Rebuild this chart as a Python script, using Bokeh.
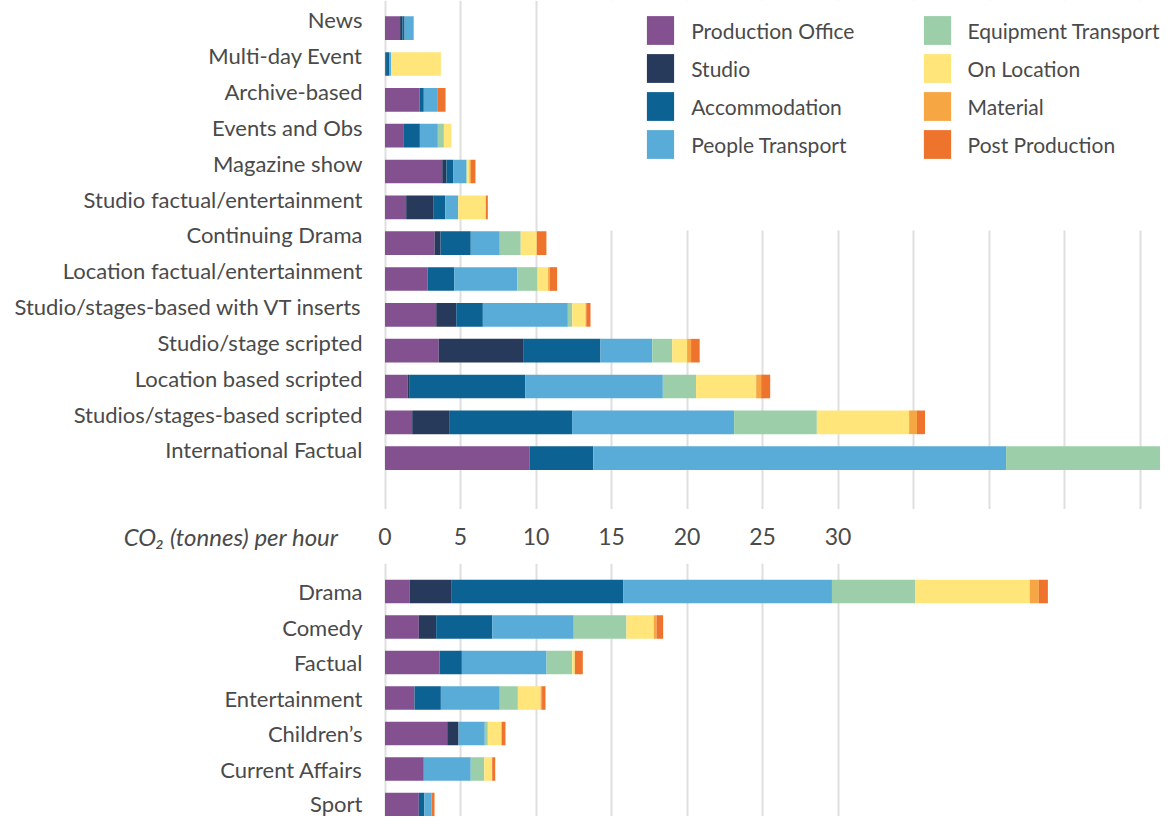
from bokeh.plotting import figure
from bokeh.layouts import column
from bokeh.models import (ColumnDataSource, Range1d, FixedTicker, Legend,
                          LegendItem, BoxAnnotation)
from bokeh.transform import dodge
from bokeh.core.properties import value
from bokeh.embed import file_html
from bokeh.resources import INLINE

# ---------------- data ----------------
SOURCES = ["Production Office", "Studio", "Accommodation", "People Transport",
           "Equipment Transport", "On Location", "Material", "Post Production"]
COLORS = ["#835190", "#283a5b", "#0c6292", "#5aacd8",
          "#9ccfa9", "#ffe57a", "#f7a644", "#ee742d"]

TOP_CATEGORIES = ["News", "Multi-day Event", "Archive-based", "Events and Obs",
                  "Magazine show", "Studio factual/entertainment",
                  "Continuing Drama", "Location factual/entertainment",
                  "Studio/stages-based with VT inserts", "Studio/stage scripted",
                  "Location based scripted", "Studios/stages-based scripted",
                  "International Factual"]
TOP_PRODUCTION_OFFICE = [1.0, 0.07, 2.3, 1.21, 3.79, 1.4, 3.28, 2.83, 3.39, 3.56, 1.51, 1.8, 9.59]
TOP_STUDIO = [0.15, 0, 0, 0, 0.28, 1.79, 0.4, 0, 1.33, 5.63, 0.13, 2.49, 0]
TOP_ACCOMMODATION = [0.15, 0.2, 0.27, 1.1, 0.44, 0.8, 2.0, 1.75, 1.76, 5.08, 7.66, 8.1, 4.2]
TOP_PEOPLE_TRANSPORT = [0.6, 0.13, 0.93, 1.19, 0.88, 0.86, 1.92, 4.19, 5.63, 3.43, 9.1, 10.73, 27.34]
TOP_EQUIPMENT_TRANSPORT = [0, 0, 0, 0.4, 0.05, 0, 1.39, 1.33, 0.29, 1.32, 2.2, 5.48, 10.58]
TOP_ON_LOCATION = [0, 3.3, 0, 0.5, 0.15, 1.83, 1.06, 0.7, 0.88, 0.99, 3.98, 6.11, 0.47]
TOP_MATERIAL = [0, 0, 0, 0, 0.1, 0, 0, 0.1, 0.05, 0.26, 0.33, 0.52, 0.1]
TOP_POST_PRODUCTION = [0, 0, 0.51, 0, 0.3, 0.13, 0.64, 0.5, 0.28, 0.57, 0.6, 0.53, 0.4]

BOTTOM_CATEGORIES = ["Drama", "Comedy", "Factual", "Entertainment",
                     "Children\u2019s", "Current Affairs", "Sport"]
BOT_PRODUCTION_OFFICE = [1.62, 2.24, 3.61, 1.95, 4.12, 2.57, 2.24]
BOT_STUDIO = [2.76, 1.15, 0, 0, 0.75, 0, 0]
BOT_ACCOMMODATION = [11.39, 3.71, 1.48, 1.75, 0, 0, 0.36]
BOT_PEOPLE_TRANSPORT = [13.83, 5.4, 5.61, 3.9, 1.74, 3.11, 0.48]
BOT_EQUIPMENT_TRANSPORT = [5.5, 3.49, 1.7, 1.2, 0.2, 0.89, 0]
BOT_ON_LOCATION = [7.6, 1.81, 0.17, 1.5, 0.91, 0.53, 0]
BOT_MATERIAL = [0.6, 0.18, 0, 0.1, 0, 0, 0]
BOT_POST_PRODUCTION = [0.6, 0.44, 0.53, 0.23, 0.26, 0.2, 0.2]

AXIS_TICKS = [0, 5, 10, 15, 20, 25, 30]
AXIS_TICK_LABELS = ["0", "5", "10", "15", "20", "25", "30"]
TOP_GRID = [0, 5, 10, 15, 20, 25, 30, 35, 40, 45, 50]
BOTTOM_GRID = [0, 5, 10, 15, 20, 25, 30]
AXIS_TITLE = "CO\u2082 (tonnes) per hour"

# ---------------- styling / layout ----------------
FONT = "Lato"
TEXT_COLOR = "#4a4a4a"
GRID_COLOR = "#dfdfdf"
W = 1160
PX = 15.1          # pixels per tonne
ZERO = 384.5       # screen x of the zero line
FRAME_LEFT = 370
XR = Range1d((FRAME_LEFT - ZERO) / PX, (W - ZERO) / PX)


def base_fig(height, y_range):
    p = figure(width=W, height=height, x_range=XR, y_range=y_range,
               output_backend="svg", toolbar_location=None,
               x_axis_location=None, min_border_left=FRAME_LEFT, min_border_right=0,
               min_border_top=0, min_border_bottom=0)
    p.outline_line_color = None
    p.background_fill_color = "white"
    p.border_fill_color = "white"
    p.ygrid.visible = False
    p.yaxis.axis_line_color = None
    p.yaxis.major_tick_line_color = None
    p.yaxis.minor_tick_line_color = None
    p.yaxis.major_tick_out = 0
    p.yaxis.major_tick_in = 0
    p.yaxis.major_label_text_font = FONT
    p.yaxis.major_label_text_font_size = "22px"
    p.yaxis.major_label_text_color = TEXT_COLOR
    p.yaxis.major_label_standoff = 8
    return p


def make_source(cats, cols):
    data = {"y": list(range(len(cats)))}
    for name, vals in zip(SOURCES, cols):
        data[name] = vals
    return ColumnDataSource(data)


# ---------------- top panel ----------------
top = base_fig(509, Range1d(13.662, -0.544))
top.xgrid.ticker = FixedTicker(ticks=TOP_GRID)
top.xgrid.grid_line_color = GRID_COLOR
top.xgrid.grid_line_width = 2
top.yaxis.ticker = FixedTicker(ticks=list(range(len(TOP_CATEGORIES))))
top.yaxis.major_label_overrides = {i: c for i, c in enumerate(TOP_CATEGORIES)}

top_src = make_source(TOP_CATEGORIES, [TOP_PRODUCTION_OFFICE, TOP_STUDIO, TOP_ACCOMMODATION,
                                       TOP_PEOPLE_TRANSPORT, TOP_EQUIPMENT_TRANSPORT,
                                       TOP_ON_LOCATION, TOP_MATERIAL, TOP_POST_PRODUCTION])
top_r = top.hbar_stack(SOURCES, y=dodge("y", 0.229), height=0.66, color=COLORS,
                       line_color=None, source=top_src)

# white panel behind the legend hides the grid there
top.add_layout(BoxAnnotation(left=14.27, bottom=5.875, fill_color="white",
                             fill_alpha=1.0, line_color=None))

LEG_LEFT = [646.6 - 3.4 - FRAME_LEFT, 923.0 - 3.4 - FRAME_LEFT]
for n, k in enumerate((0, 4)):
    items = [LegendItem(label=SOURCES[k + j], renderers=[top_r[k + j]]) for j in range(4)]
    leg = Legend(items=items, location=(LEG_LEFT[n], 346.6), orientation="vertical",
                 glyph_width=34, glyph_height=36, label_height=36,
                 label_standoff=14, spacing=2, padding=0, margin=0,
                 background_fill_alpha=0, border_line_color=None,
                 label_text_font=FONT, label_text_font_size="21px",
                 label_text_color=TEXT_COLOR)
    top.add_layout(leg, "center")

# ---------------- middle axis strip ----------------
mid = base_fig(54, Range1d(-1, 1))
mid.xgrid.visible = False
mid.yaxis.ticker = FixedTicker(ticks=[0])
mid.yaxis.major_label_overrides = {0: AXIS_TITLE}
mid.yaxis.major_label_text_font_style = "italic"
mid.yaxis.major_label_text_font_size = "24px"
mid.yaxis.major_label_standoff = 32
mid.text(x=AXIS_TICKS, y=[0] * len(AXIS_TICKS), text=AXIS_TICK_LABELS,
         text_align="center", text_baseline="middle", text_font=value(FONT),
         text_font_size="23px", text_color=TEXT_COLOR)

# ---------------- bottom panel ----------------
bot = base_fig(253, Range1d(6.338, -0.789))
bot.xgrid.ticker = FixedTicker(ticks=BOTTOM_GRID)
bot.xgrid.grid_line_color = GRID_COLOR
bot.xgrid.grid_line_width = 2
bot.yaxis.ticker = FixedTicker(ticks=list(range(len(BOTTOM_CATEGORIES))))
bot.yaxis.major_label_overrides = {i: c for i, c in enumerate(BOTTOM_CATEGORIES)}
bot_src = make_source(BOTTOM_CATEGORIES, [BOT_PRODUCTION_OFFICE, BOT_STUDIO, BOT_ACCOMMODATION,
                                          BOT_PEOPLE_TRANSPORT, BOT_EQUIPMENT_TRANSPORT,
                                          BOT_ON_LOCATION, BOT_MATERIAL, BOT_POST_PRODUCTION])
bot.hbar_stack(SOURCES, y="y", height=0.66, color=COLORS, line_color=None, source=bot_src)

layout = column(top, mid, bot, spacing=0)
open("out.html", "w").write(file_html(layout, INLINE))
